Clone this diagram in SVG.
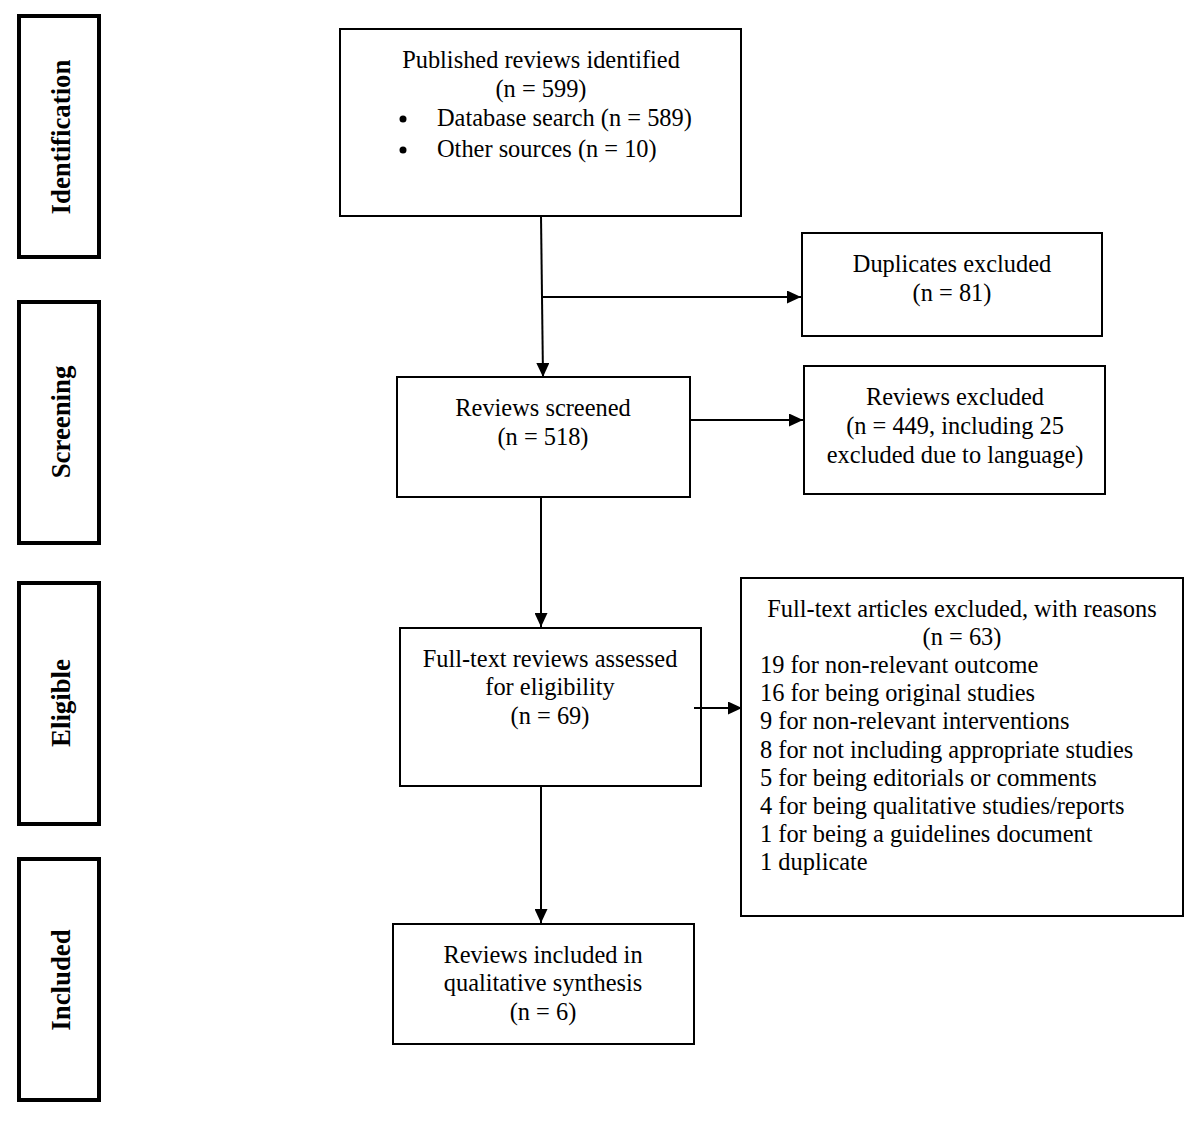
<svg xmlns="http://www.w3.org/2000/svg" width="1200" height="1124" viewBox="0 0 1200 1124">
<style>
.box{fill:#fff;stroke:#000;stroke-width:2}
.side{fill:#fff;stroke:#000;stroke-width:4}
text{font-family:"Liberation Serif","Times New Roman",serif;font-size:24.4px;fill:#000}
.c{text-anchor:middle}
.lbl{font-weight:bold;font-size:26.8px;text-anchor:middle}
.ln{stroke:#000;stroke-width:2;fill:none}
</style>
<defs>
<marker id="ah" viewBox="0 0 14 13" refX="14" refY="6.5" markerWidth="14" markerHeight="13" markerUnits="userSpaceOnUse" orient="auto">
<path d="M0,0 L14,6.5 L0,13 Z" fill="#000"/>
</marker>
</defs>
<rect width="1200" height="1124" fill="#fff"/>
<g id="stage-identification"><rect class="side" x="19" y="16" width="80" height="241"/><text class="lbl" transform="translate(70,137) rotate(-90)">Identification</text></g>
<g id="stage-screening"><rect class="side" x="19" y="302" width="80" height="241"/><text class="lbl" transform="translate(70,422) rotate(-90)">Screening</text></g>
<g id="stage-eligible"><rect class="side" x="19" y="583" width="80" height="241"/><text class="lbl" transform="translate(70,703) rotate(-90)">Eligible</text></g>
<g id="stage-included"><rect class="side" x="19" y="859" width="80" height="241"/><text class="lbl" transform="translate(70,980) rotate(-90)">Included</text></g>
<g id="identified"><rect class="box" x="340" y="29" width="401" height="187"/>
<text class="c" x="541" y="68">Published reviews identified</text>
<text class="c" x="541" y="97">(n = 599)</text>
<circle cx="403" cy="119" r="3.5" fill="#000"/><text x="437" y="126">Database search (n = 589)</text>
<circle cx="403" cy="150" r="3.5" fill="#000"/><text x="437" y="157">Other sources (n = 10)</text></g>
<g id="duplicates"><rect class="box" x="802" y="233" width="300" height="103"/>
<text class="c" x="952" y="272">Duplicates excluded</text><text class="c" x="952" y="301">(n = 81)</text></g>
<g id="screened"><rect class="box" x="397" y="377" width="293" height="120"/>
<text class="c" x="543" y="416">Reviews screened</text><text class="c" x="543" y="445">(n = 518)</text></g>
<g id="excluded"><rect class="box" x="804" y="366" width="301" height="128"/>
<text class="c" x="955" y="405">Reviews excluded</text><text class="c" x="955" y="434">(n = 449, including 25</text><text class="c" x="955" y="463">excluded due to language)</text></g>
<g id="fulltext"><rect class="box" x="400" y="628" width="301" height="158"/>
<text class="c" x="550" y="667">Full-text reviews assessed</text><text class="c" x="550" y="695">for eligibility</text><text class="c" x="550" y="724">(n = 69)</text></g>
<g id="ft-excluded"><rect class="box" x="741" y="578" width="442" height="338"/>
<text class="c" x="962" y="617">Full-text articles excluded, with reasons</text>
<text class="c" x="962" y="645">(n = 63)</text>
<text x="760" y="673">19 for non-relevant outcome</text>
<text x="760" y="701">16 for being original studies</text>
<text x="760" y="729">9 for non-relevant interventions</text>
<text x="760" y="758">8 for not including appropriate studies</text>
<text x="760" y="786">5 for being editorials or comments</text>
<text x="760" y="814">4 for being qualitative studies/reports</text>
<text x="760" y="842">1 for being a guidelines document</text>
<text x="760" y="870">1 duplicate</text></g>
<g id="included"><rect class="box" x="393" y="924" width="301" height="120"/>
<text class="c" x="543" y="963">Reviews included in</text><text class="c" x="543" y="991">qualitative synthesis</text><text class="c" x="543" y="1020">(n = 6)</text></g>
<g id="connectors">
<path class="ln" d="M541,216 L543,377" marker-end="url(#ah)"/>
<path class="ln" d="M542,297 L801,297" marker-end="url(#ah)"/>
<path class="ln" d="M690,420 L803,420" marker-end="url(#ah)"/>
<path class="ln" d="M541,497 L541,627" marker-end="url(#ah)"/>
<path class="ln" d="M694,708 L742,708" marker-end="url(#ah)"/>
<path class="ln" d="M541,786 L541,923" marker-end="url(#ah)"/>
</g>
</svg>
